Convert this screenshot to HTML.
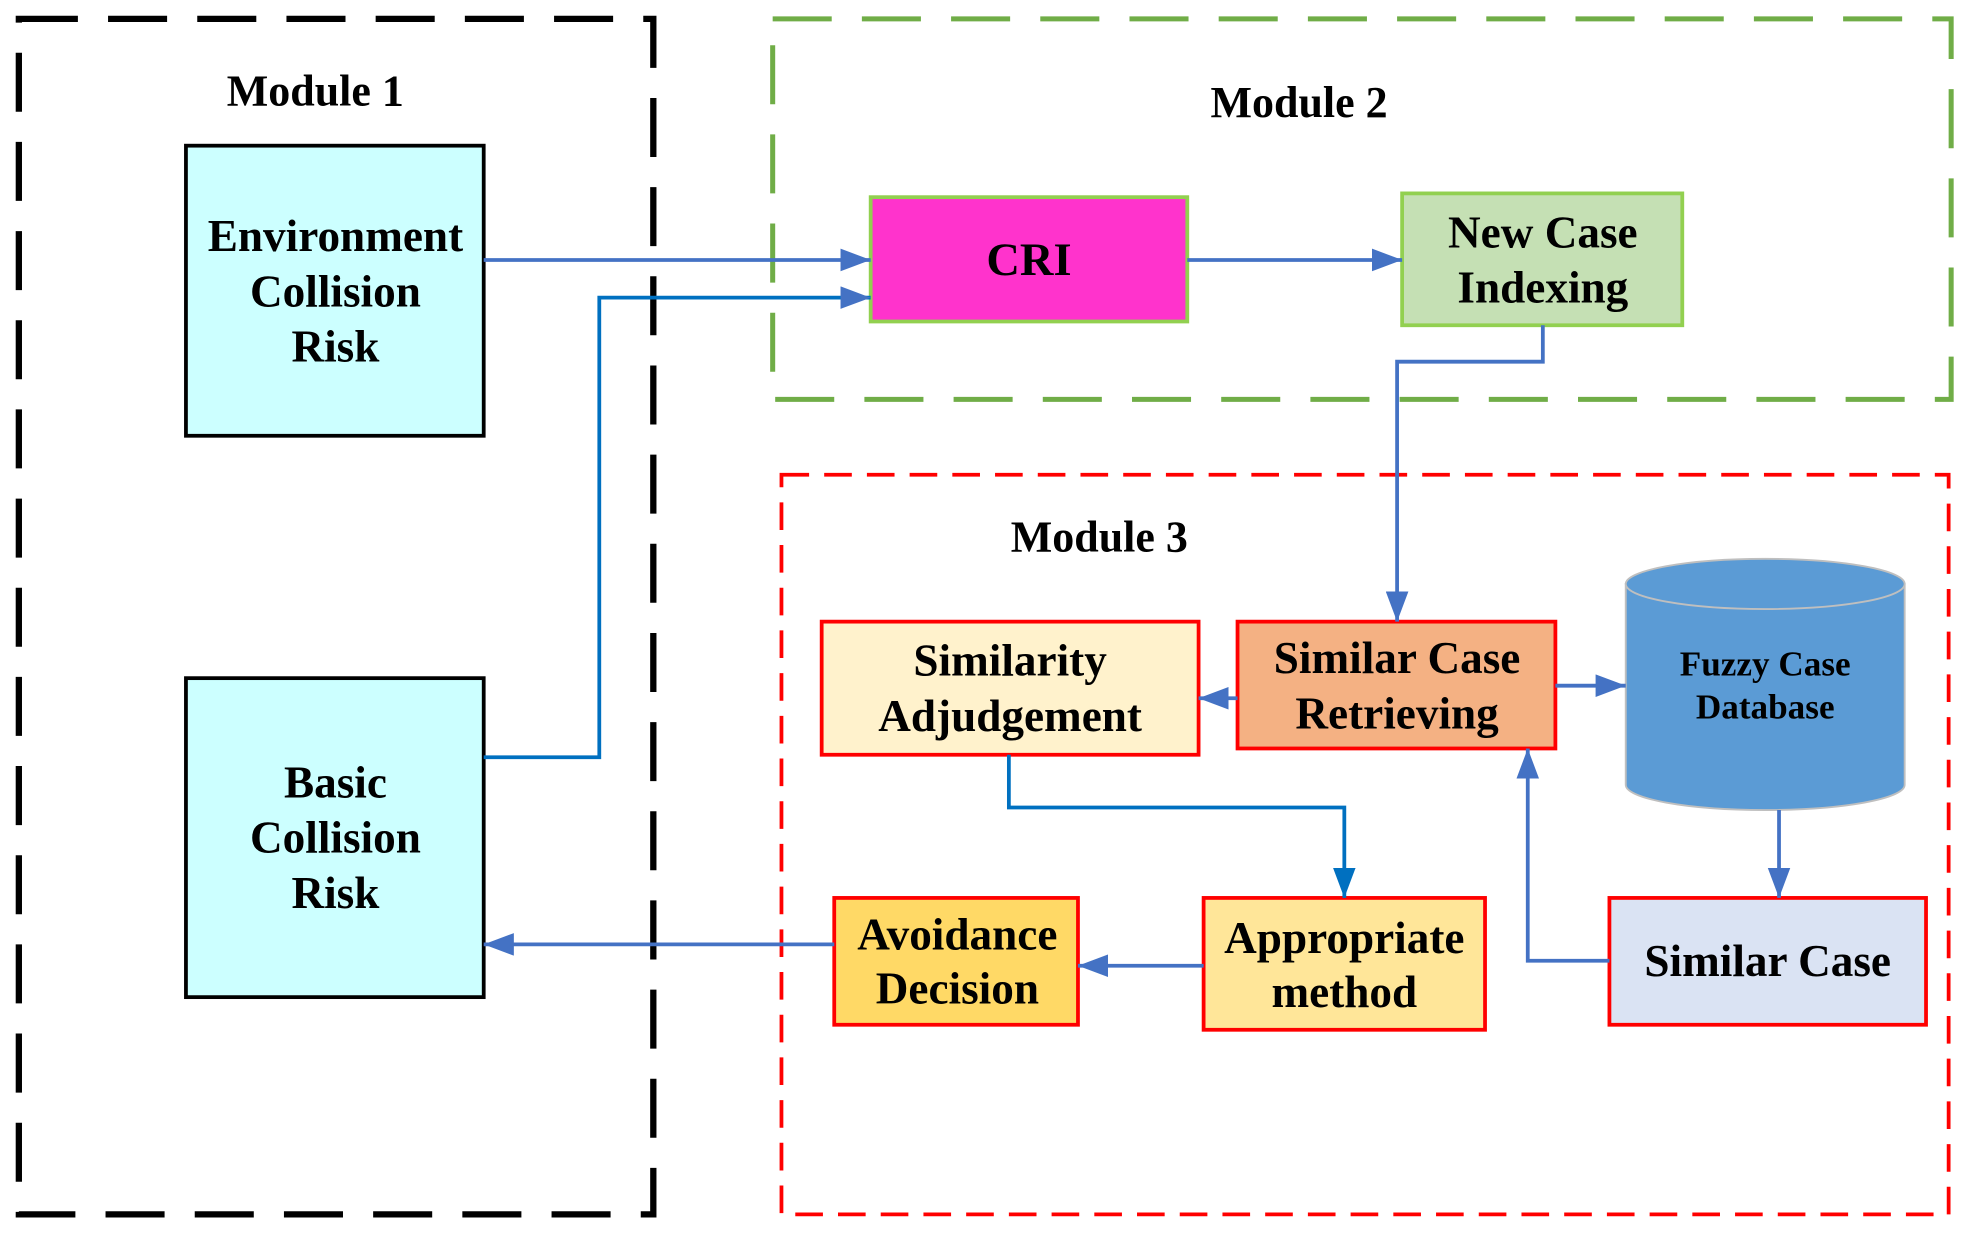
<!DOCTYPE html>
<html><head><meta charset="utf-8"><style>html,body{margin:0;padding:0;background:#fff}svg{display:block}</style></head>
<body>
<svg width="1970" height="1237" viewBox="0 0 1568 985" preserveAspectRatio="none" xmlns="http://www.w3.org/2000/svg" font-family="Liberation Serif, serif" font-weight="bold">
<defs>
<marker id="ah" viewBox="0 0 10 10" refX="10" refY="5" markerWidth="24" markerHeight="18" orient="auto" markerUnits="userSpaceOnUse" preserveAspectRatio="none"><path d="M0,0 L10,5 L0,10 z" fill="#4472c4"/></marker>
<marker id="ab" viewBox="0 0 10 10" refX="10" refY="5" markerWidth="24" markerHeight="18" orient="auto" markerUnits="userSpaceOnUse" preserveAspectRatio="none"><path d="M0,0 L10,5 L0,10 z" fill="#0070c0"/></marker>
</defs>
<rect x="15" y="15" width="505" height="952" fill="none" stroke="#000" stroke-width="5" stroke-dasharray="47,24"/>
<rect x="615" y="15" width="938" height="303" fill="none" stroke="#70ad47" stroke-width="4" stroke-dasharray="47,24"/>
<rect x="622" y="378" width="929" height="589" fill="none" stroke="#ff0000" stroke-width="3" stroke-dasharray="22,12"/>
<g font-size="35" text-anchor="middle" fill="#000">
<text x="251" y="84">Module 1</text>
<text x="1034" y="93">Module 2</text>
<text x="875" y="439">Module 3</text>
</g>
<rect x="148" y="116" width="237" height="231" fill="#ccffff" stroke="#000" stroke-width="3"/>
<rect x="148" y="540" width="237" height="254" fill="#ccffff" stroke="#000" stroke-width="3"/>
<rect x="693" y="157" width="252" height="99" fill="#ff33cc" stroke="#92d050" stroke-width="3"/>
<rect x="1116" y="154" width="223" height="105" fill="#c5e0b4" stroke="#92d050" stroke-width="3"/>
<rect x="654" y="495" width="300" height="106" fill="#fff2cc" stroke="#ff0000" stroke-width="3"/>
<rect x="985" y="495" width="253" height="101" fill="#f4b183" stroke="#ff0000" stroke-width="3"/>
<rect x="1281" y="715" width="252" height="101" fill="#dae3f3" stroke="#ff0000" stroke-width="3"/>
<rect x="958" y="715" width="224" height="105" fill="#ffe699" stroke="#ff0000" stroke-width="3"/>
<rect x="664" y="715" width="194" height="101" fill="#ffd966" stroke="#ff0000" stroke-width="3"/>
<path d="M1294,465 L1294,625 A111,20 0 0 0 1516,625 L1516,465 Z" fill="#5b9bd5" stroke="#bfbfbf" stroke-width="1.5"/>
<ellipse cx="1405" cy="465" rx="111" ry="20" fill="#5b9bd5" stroke="#bfbfbf" stroke-width="1.5"/>
<g font-size="36" text-anchor="middle" fill="#000">
<text x="267" y="200">Environment</text>
<text x="267" y="244">Collision</text>
<text x="267" y="288">Risk</text>
<text x="267" y="635">Basic</text>
<text x="267" y="679">Collision</text>
<text x="267" y="723">Risk</text>
<text x="819" y="219" font-size="37">CRI</text>
<text x="1228" y="197">New Case</text>
<text x="1228" y="241">Indexing</text>
<text x="804" y="538">Similarity</text>
<text x="804" y="582">Adjudgement</text>
<text x="1112" y="536">Similar Case</text>
<text x="1112" y="580">Retrieving</text>
<text x="1407" y="777">Similar Case</text>
<text x="1070" y="759">Appropriate</text>
<text x="1070" y="802">method</text>
<text x="762" y="756">Avoidance</text>
<text x="762" y="799">Decision</text>
<text x="1405" y="538" font-size="28">Fuzzy Case</text>
<text x="1405" y="572" font-size="28">Database</text>
</g>
<g fill="none" stroke-width="3">
<path d="M385,207 H693" stroke="#4472c4" marker-end="url(#ah)"/>
<path d="M385,603 H477 V237 H693" stroke="#0070c0" marker-end="url(#ah)"/>
<path d="M945,207 H1116" stroke="#4472c4" marker-end="url(#ah)"/>
<path d="M1228,259 V288 H1112 V495" stroke="#4472c4" marker-end="url(#ah)"/>
<path d="M985,556 H954" stroke="#4472c4" marker-end="url(#ah)"/>
<path d="M1238,546 H1294" stroke="#4472c4" marker-end="url(#ah)"/>
<path d="M1416,645 V715" stroke="#4472c4" marker-end="url(#ah)"/>
<path d="M1281,765 H1216 V596" stroke="#4472c4" marker-end="url(#ah)"/>
<path d="M803,601 V643 H1070 V715" stroke="#0070c0" marker-end="url(#ab)"/>
<path d="M958,769 H858" stroke="#4472c4" marker-end="url(#ah)"/>
<path d="M664,752 H385" stroke="#4472c4" marker-end="url(#ah)"/>
</g>
</svg>
</body></html>
